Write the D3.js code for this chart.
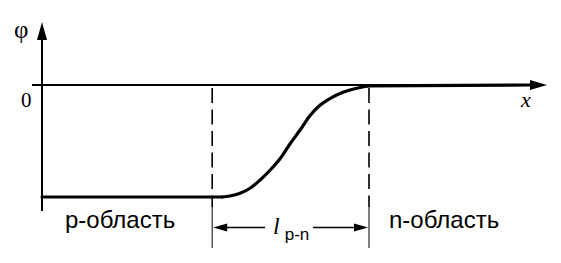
<!DOCTYPE html>
<html>
<head>
<meta charset="utf-8">
<script src="https://cdn.jsdelivr.net/npm/d3@7"></script>
<style>
  body { margin: 0; background: #fff; }
  svg { display: block; }
</style>
</head>
<body>
<svg id="graph" width="561" height="263"></svg>
<script>
// potential profile across the p-n junction
// x in arbitrary units 0..100, phi normalised so p-side = -1
const curveX   = [0, 35.6, 37.2, 39.2, 41.2, 43.2, 45.2, 47.1, 49.1, 51.1, 53.1, 55.1, 57.0, 59.0, 61.0, 63.0, 64.6, 96.6];
const curvePhi = [-1, -1, -0.991, -0.967, -0.922, -0.848, -0.759, -0.661, -0.527, -0.402, -0.272, -0.179, -0.121, -0.076, -0.045, -0.022, -0.008, 0];

// edges of the transition region
const boundaries = [33.7, 64.75];

const regionLabels = ["p-область", "n-область"];
const zeroTick = ["0"];
const axisNames = ["φ", "x"];

function draw() {
    const svg = d3.select("#graph");

    // scales
    const xScale = d3.scaleLinear().domain([0, 100]).range([42, 547]);
    const yScale = d3.scaleLinear().domain([-1, 0]).range([197, 85]);

    const x0 = xScale(0);
    const y0 = yScale(0);
    const yTop = 22;
    const yBottom = 211;
    const xEnd = xScale(100);

    // y axis
    svg.append("line")
        .attr("x1", x0).attr("y1", yBottom)
        .attr("x2", x0).attr("y2", yTop + 14)
        .attr("stroke", "#000")
        .attr("stroke-width", 2);
    svg.append("path")
        .attr("d", `M${x0},${yTop} L${x0 - 5},${yTop + 18} L${x0 + 5},${yTop + 18} Z`)
        .attr("fill", "#000");

    // x axis (phi = 0)
    svg.append("line")
        .attr("x1", 32).attr("y1", y0)
        .attr("x2", xEnd - 12).attr("y2", y0)
        .attr("stroke", "#000")
        .attr("stroke-width", 1.8);
    svg.append("path")
        .attr("d", `M${xEnd},${y0} L${xEnd - 17},${y0 - 5} L${xEnd - 17},${y0 + 5} Z`)
        .attr("fill", "#000");

    // potential curve: flat plateaus straight, transition smoothed
    const pts = curveX.map((d, i) => [d, curvePhi[i]]);
    const n = pts.length;
    const straight = d3.line()
        .x(d => xScale(d[0]))
        .y(d => yScale(d[1]));
    const smooth = d3.line()
        .x(d => xScale(d[0]))
        .y(d => yScale(d[1]))
        .curve(d3.curveCatmullRom.alpha(0.5));
    const pieces = [
        [pts.slice(0, 2), straight],
        [pts.slice(1, n - 1), smooth],
        [pts.slice(n - 2), straight]
    ];
    pieces.forEach(p => {
        svg.append("path")
            .datum(p[0])
            .attr("fill", "none")
            .attr("stroke", "#000")
            .attr("stroke-width", 3.2)
            .attr("stroke-linecap", "round")
            .attr("d", p[1]);
    });

    // boundary lines: dashed above, thin solid below
    boundaries.forEach(b => {
        const bx = xScale(b);
        svg.append("line")
            .attr("x1", bx).attr("y1", y0 + 3)
            .attr("x2", bx).attr("y2", 207)
            .attr("stroke", "#000")
            .attr("stroke-width", 1.6)
            .attr("stroke-dasharray", "15,6.5");
        svg.append("line")
            .attr("x1", bx).attr("y1", 207)
            .attr("x2", bx).attr("y2", 248)
            .attr("stroke", "#000")
            .attr("stroke-width", 1);
    });

    // dimension arrow l_p-n
    const xa = xScale(boundaries[0]);
    const xb = xScale(boundaries[1]);
    const ya = 227.5;
    svg.append("line")
        .attr("x1", xa + 12).attr("y1", ya).attr("x2", 265).attr("y2", ya)
        .attr("stroke", "#000").attr("stroke-width", 1.5);
    svg.append("line")
        .attr("x1", 313).attr("y1", ya).attr("x2", xb - 12).attr("y2", ya)
        .attr("stroke", "#000").attr("stroke-width", 1.5);
    svg.append("path")
        .attr("d", `M${xa + 1},${ya} L${xa + 15},${ya - 4} L${xa + 15},${ya + 4} Z`)
        .attr("fill", "#000");
    svg.append("path")
        .attr("d", `M${xb - 1},${ya} L${xb - 15},${ya - 4} L${xb - 15},${ya + 4} Z`)
        .attr("fill", "#000");

    const lab = svg.append("text")
        .attr("x", 273).attr("y", 234);
    lab.append("tspan")
        .style("font-family", "'Liberation Serif', 'Times New Roman', serif")
        .style("font-style", "italic")
        .style("font-size", "24px")
        .text("l");
    lab.append("tspan")
        .attr("dx", 5).attr("dy", 6)
        .style("font-family", "'Liberation Sans', Arial, sans-serif")
        .style("font-size", "17px")
        .text("p-n");

    // axis names and zero tick
    svg.append("text")
        .attr("x", 14).attr("y", 38)
        .style("font-family", "'Liberation Serif', 'Times New Roman', serif")
        .style("font-size", "25px")
        .text(axisNames[0]);
    svg.append("text")
        .attr("x", 521).attr("y", 107)
        .style("font-family", "'Liberation Serif', 'Times New Roman', serif")
        .style("font-style", "italic")
        .style("font-size", "22px")
        .text(axisNames[1]);
    svg.append("text")
        .attr("x", 21).attr("y", 107)
        .style("font-family", "'Liberation Serif', 'Times New Roman', serif")
        .style("font-size", "21px")
        .text(zeroTick[0]);

    // region labels
    const labelX = [65, 389];
    regionLabels.forEach((t, i) => {
        svg.append("text")
            .attr("x", labelX[i]).attr("y", 228)
            .style("font-family", "'Liberation Sans', Arial, sans-serif")
            .style("font-size", "24px")
            .text(t);
    });
}

draw();
</script>
</body>
</html>
